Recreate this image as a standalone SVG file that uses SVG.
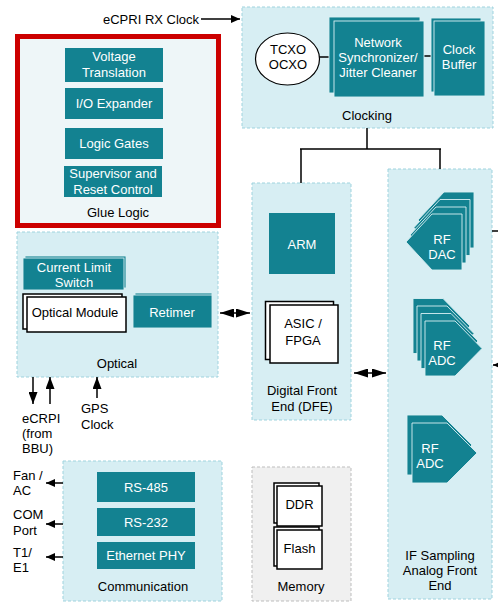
<svg xmlns="http://www.w3.org/2000/svg" width="498" height="603" viewBox="0 0 498 603">
  <style>
    text { font-family: "Liberation Sans", Arial, sans-serif; font-size: 13px; text-anchor: middle; fill: #000; }
    text.w { fill: #fff; }
    text.l { text-anchor: start; }
    .panel { fill: #d7eef3; stroke: #9fd3de; stroke-width: 1; stroke-dasharray: 3 2; }
    .mem { fill: #f0f0f0; stroke: #bdbdbd; stroke-width: 1; stroke-dasharray: 3 2; }
    .teal { fill: #138291; }
    .tealL { fill: #138291; stroke: #d9eff3; stroke-width: 0.9; }
    .chip { fill: #fff; stroke: #000; stroke-width: 1.5; }
    .wire { fill: none; stroke: #000; stroke-width: 1.5; }
  </style>
  <defs>
    <marker id="ah" viewBox="0 0 10 10" refX="10" refY="5" markerWidth="9" markerHeight="8" markerUnits="userSpaceOnUse" orient="auto-start-reverse" preserveAspectRatio="none">
      <path d="M0,0 L10,5 L0,10 Z" fill="#000"/>
    </marker>
    <marker id="ahv" viewBox="0 0 10 10" refX="10" refY="5" markerWidth="12" markerHeight="9" markerUnits="userSpaceOnUse" orient="auto-start-reverse" preserveAspectRatio="none">
      <path d="M0,0 L10,5 L0,10 Z" fill="#000"/>
    </marker>
    <marker id="ahd" viewBox="0 0 10 10" refX="10" refY="5" markerWidth="14" markerHeight="9" markerUnits="userSpaceOnUse" orient="auto-start-reverse" preserveAspectRatio="none">
      <path d="M0,0 L10,5 L0,10 Z" fill="#000"/>
    </marker>
    <path id="dac" d="M26,0 H56 V56 H26 L0,28 Z"/>
    <path id="adc" d="M0,0 H30 L57,27.5 L30,55 H0 Z"/>
    <path id="adc2" d="M0,0 H35 L65,30 L35,60 H0 Z"/>
  </defs>

  <!-- Glue logic -->
  <g id="glue-logic">
    <rect x="17.5" y="36.5" width="201" height="189" fill="#eef6f8" stroke="#cc0000" stroke-width="5"/>
    <rect class="teal" x="65" y="48" width="98" height="34"/>
    <text class="w" x="114" y="60.5">Voltage</text>
    <text class="w" x="114" y="76.5">Translation</text>
    <rect class="teal" x="65" y="88" width="98" height="31"/>
    <text class="w" x="114" y="108">I/O Expander</text>
    <rect class="teal" x="65" y="128" width="98" height="31"/>
    <text class="w" x="114" y="148">Logic Gates</text>
    <rect class="teal" x="64" y="166" width="98" height="31"/>
    <text class="w" x="113" y="177.5">Supervisor and</text>
    <text class="w" x="113" y="193.5">Reset Control</text>
    <text x="118" y="216.5">Glue Logic</text>
  </g>

  <!-- Clocking -->
  <g id="clocking">
    <rect class="panel" x="242" y="7" width="251" height="121"/>
    <line class="wire" x1="319" y1="57" x2="330" y2="57"/>
    <line class="wire" x1="423" y1="56" x2="432" y2="56"/>
    <ellipse cx="287.5" cy="59" rx="32" ry="26" fill="#fff" stroke="#000" stroke-width="1.2"/>
    <text x="288" y="53.5">TCXO</text>
    <text x="288" y="68.5">OCXO</text>
    <rect class="tealL" x="329" y="17" width="91" height="76"/>
    <rect class="tealL" x="334" y="21" width="90" height="76"/>
    <text class="w" x="378" y="46.5">Network</text>
    <text class="w" x="378" y="61.5">Synchronizer/</text>
    <text class="w" x="378" y="76.5">Jitter Cleaner</text>
    <rect class="tealL" x="431" y="18" width="50" height="74"/>
    <rect class="tealL" x="434" y="21" width="51" height="75"/>
    <text class="w" x="459" y="53.5">Clock</text>
    <text class="w" x="459" y="68.5">Buffer</text>
    <text x="367" y="119.5">Clocking</text>
  </g>

  <!-- Optical -->
  <g id="optical">
    <rect class="panel" x="17" y="232" width="201" height="145"/>
    <rect class="tealL" x="25" y="256" width="101" height="32"/>
    <rect class="tealL" x="23" y="258" width="101" height="32"/>
    <text class="w" x="74" y="271.5">Current Limit</text>
    <text class="w" x="74" y="286.5">Switch</text>
    <rect class="chip" x="23" y="294" width="99" height="35"/>
    <rect class="chip" x="27" y="297" width="99" height="35"/>
    <text x="75" y="316.5">Optical Module</text>
    <rect class="tealL" x="135" y="293" width="77" height="33"/>
    <rect class="tealL" x="133" y="295" width="79" height="33"/>
    <text class="w" x="172" y="316.5">Retimer</text>
    <text x="117" y="367.5">Optical</text>
  </g>

  <!-- Digital front end -->
  <g id="dfe">
    <rect class="panel" x="252" y="183" width="99" height="237"/>
    <rect class="teal" x="269" y="213" width="66" height="61"/>
    <text class="w" x="302" y="248.5">ARM</text>
    <rect class="chip" x="265.5" y="301.5" width="68" height="58"/>
    <rect class="chip" x="270" y="305" width="68" height="58"/>
    <text x="303" y="327.5">ASIC /</text>
    <text x="303" y="344.5">FPGA</text>
    <text x="302" y="394.5">Digital Front</text>
    <text x="302" y="410.5">End (DFE)</text>
  </g>

  <!-- IF sampling analog front end -->
  <g id="if-afe">
    <rect class="panel" x="388" y="169" width="104" height="430"/>
    <g id="rf-dac">
      <use href="#dac" class="tealL" x="418" y="192"/>
      <use href="#dac" class="tealL" x="414" y="199.5"/>
      <use href="#dac" class="tealL" x="410" y="207"/>
      <use href="#dac" class="tealL" x="406" y="214"/>
      <text class="w" x="442" y="243.5">RF</text>
      <text class="w" x="442" y="258.5">DAC</text>
    </g>
    <g id="rf-adc-1">
      <use href="#adc" class="tealL" x="413" y="298.5"/>
      <use href="#adc" class="tealL" x="417" y="306"/>
      <use href="#adc" class="tealL" x="421" y="313.5"/>
      <use href="#adc" class="tealL" x="425" y="321"/>
      <text class="w" x="442" y="349.5">RF</text>
      <text class="w" x="442" y="364.5">ADC</text>
    </g>
    <g id="rf-adc-2">
      <use href="#adc2" class="tealL" x="407" y="415"/>
      <use href="#adc2" class="tealL" x="412" y="423"/>
      <text class="w" x="430" y="452.5">RF</text>
      <text class="w" x="430" y="467.5">ADC</text>
    </g>
    <text x="440" y="559.5">IF Sampling</text>
    <text x="440" y="574.5">Analog Front</text>
    <text x="440" y="589.5">End</text>
  </g>

  <!-- Communication -->
  <g id="communication">
    <rect class="panel" x="63" y="461" width="159" height="140"/>
    <rect class="teal" x="97" y="472" width="98" height="30"/>
    <text class="w" x="146" y="491.5">RS-485</text>
    <rect class="teal" x="97" y="508" width="98" height="28"/>
    <text class="w" x="146" y="526.5">RS-232</text>
    <rect class="teal" x="97" y="542" width="98" height="27"/>
    <text class="w" x="146" y="560">Ethernet PHY</text>
    <text x="143" y="590.5">Communication</text>
  </g>

  <!-- Memory -->
  <g id="memory">
    <rect class="mem" x="252" y="467" width="99" height="134"/>
    <rect class="chip" x="274" y="483" width="45" height="40"/>
    <rect class="chip" x="277" y="486" width="45" height="40"/>
    <text x="299.5" y="508.5">DDR</text>
    <rect class="chip" x="274" y="527" width="45" height="39"/>
    <rect class="chip" x="277" y="530" width="45" height="39"/>
    <text x="299.5" y="552.5">Flash</text>
    <text x="301" y="590.5">Memory</text>
  </g>

  <!-- External signal labels -->
  <g id="labels">
    <text class="l" x="103" y="23.5">eCPRI RX Clock</text>
    <text class="l" x="22" y="422.5">eCRPI</text>
    <text class="l" x="22" y="437.5">(from</text>
    <text class="l" x="22" y="452.5">BBU)</text>
    <text class="l" x="81" y="412.5">GPS</text>
    <text class="l" x="81" y="428.5">Clock</text>
    <text class="l" x="13" y="479.5">Fan /</text>
    <text class="l" x="13" y="494.5">AC</text>
    <text class="l" x="13" y="518.5">COM</text>
    <text class="l" x="13" y="534.5">Port</text>
    <text class="l" x="13" y="556.5">T1/</text>
    <text class="l" x="13" y="571.5">E1</text>
  </g>

  <!-- Connectors -->
  <g id="connectors">
    <path class="wire" d="M367,128 V149 M300,149 H441 M301,149 V183 M440,149 V169"/>
    <line class="wire" x1="201" y1="19" x2="240" y2="19" marker-end="url(#ah)"/>
    <line class="wire" x1="220" y1="313" x2="250" y2="313" marker-start="url(#ahd)" marker-end="url(#ahd)"/>
    <line class="wire" x1="354" y1="373" x2="386" y2="373" marker-start="url(#ahd)" marker-end="url(#ahd)"/>
    <line class="wire" x1="33" y1="377" x2="33" y2="404" marker-end="url(#ahv)"/>
    <line class="wire" x1="50" y1="404" x2="50" y2="377" marker-end="url(#ahv)"/>
    <line class="wire" x1="97" y1="398" x2="97" y2="377" marker-end="url(#ahv)"/>
    <line class="wire" x1="63" y1="483" x2="46" y2="483" marker-end="url(#ah)"/>
    <line class="wire" x1="63" y1="524" x2="46" y2="524" marker-end="url(#ah)"/>
    <line class="wire" x1="63" y1="557" x2="46" y2="557" marker-end="url(#ah)"/>
    <line class="wire" x1="492" y1="231" x2="498" y2="231"/>
    <line class="wire" x1="498" y1="365" x2="493" y2="365" marker-end="url(#ah)"/>
  </g>
</svg>
